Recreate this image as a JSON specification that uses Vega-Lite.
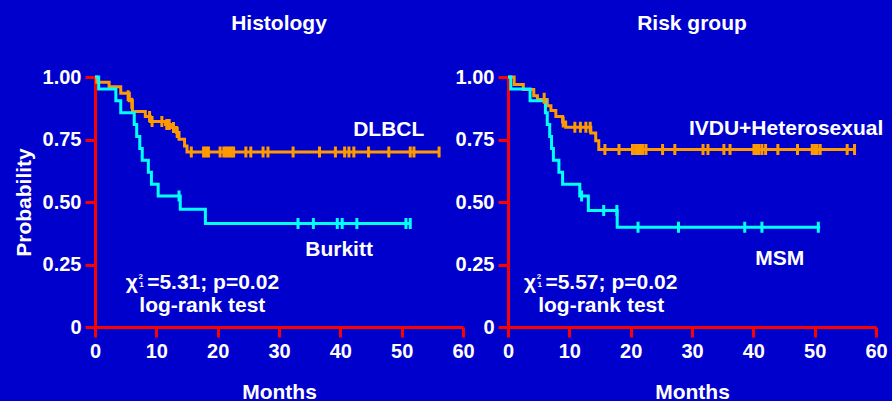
{
  "$schema": "https://vega.github.io/schema/vega-lite/v6.json",
  "background": "#0000CC",
  "padding": {"left": 13, "top": 13, "right": 20, "bottom": 20},
  "spacing": 45,
  "bounds": "flush",
  "config": {
    "view": {"stroke": null},
    "font": "Liberation Sans",
    "axis": {
      "grid": false,
      "labelFlush": false,
      "labelOverlap": false,
      "domainColor": "#FF0000",
      "domainWidth": 3,
      "tickColor": "#FF0000",
      "tickWidth": 3,
      "tickSize": 10,
      "labelColor": "white",
      "labelFont": "Liberation Sans",
      "labelFontWeight": "bold",
      "labelFontSize": 20,
      "labelPadding": 4,
      "titleColor": "white",
      "titleFont": "Liberation Sans",
      "titleFontWeight": "bold",
      "titleFontSize": 21
    },
    "axisX": {"titlePadding": 20},
    "axisY": {"titlePadding": 8},
    "title": {"color": "white", "font": "Liberation Sans", "fontSize": 21, "fontWeight": "bold", "frame": "group", "offset": 33}
  },
  "datasets": {
    "hist_curves": [
      {"group": "DLBCL", "months": 0, "prob": 1.0},
      {"group": "DLBCL", "months": 0.3, "prob": 0.979},
      {"group": "DLBCL", "months": 2.3, "prob": 0.961},
      {"group": "DLBCL", "months": 4.2, "prob": 0.935},
      {"group": "DLBCL", "months": 5.6, "prob": 0.905},
      {"group": "DLBCL", "months": 6.1, "prob": 0.862},
      {"group": "DLBCL", "months": 8.2, "prob": 0.842},
      {"group": "DLBCL", "months": 9.0, "prob": 0.822},
      {"group": "DLBCL", "months": 11.5, "prob": 0.81},
      {"group": "DLBCL", "months": 12.3, "prob": 0.798},
      {"group": "DLBCL", "months": 13.3, "prob": 0.778},
      {"group": "DLBCL", "months": 13.7, "prob": 0.751},
      {"group": "DLBCL", "months": 14.6, "prob": 0.724},
      {"group": "DLBCL", "months": 15.0, "prob": 0.7},
      {"group": "DLBCL", "months": 56.1, "prob": 0.7},
      {"group": "Burkitt", "months": 0, "prob": 1.0},
      {"group": "Burkitt", "months": 0.6, "prob": 0.952},
      {"group": "Burkitt", "months": 3.4, "prob": 0.905},
      {"group": "Burkitt", "months": 4.2, "prob": 0.857},
      {"group": "Burkitt", "months": 6.4, "prob": 0.81},
      {"group": "Burkitt", "months": 6.8, "prob": 0.762},
      {"group": "Burkitt", "months": 7.3, "prob": 0.714},
      {"group": "Burkitt", "months": 7.7, "prob": 0.667},
      {"group": "Burkitt", "months": 8.7, "prob": 0.619},
      {"group": "Burkitt", "months": 9.2, "prob": 0.571},
      {"group": "Burkitt", "months": 10.3, "prob": 0.524},
      {"group": "Burkitt", "months": 13.9, "prob": 0.471},
      {"group": "Burkitt", "months": 18.0, "prob": 0.414},
      {"group": "Burkitt", "months": 51.4, "prob": 0.414}
    ],
    "hist_cens": [
      {"group": "DLBCL", "months": 5.4, "prob": 0.925},
      {"group": "DLBCL", "months": 6.0, "prob": 0.895},
      {"group": "DLBCL", "months": 8.9, "prob": 0.842},
      {"group": "DLBCL", "months": 9.3, "prob": 0.822},
      {"group": "DLBCL", "months": 10.9, "prob": 0.822},
      {"group": "DLBCL", "months": 11.7, "prob": 0.81},
      {"group": "DLBCL", "months": 12.1, "prob": 0.81},
      {"group": "DLBCL", "months": 12.8, "prob": 0.798},
      {"group": "DLBCL", "months": 13.4, "prob": 0.778},
      {"group": "DLBCL", "months": 15.7, "prob": 0.7},
      {"group": "DLBCL", "months": 17.7, "prob": 0.7},
      {"group": "DLBCL", "months": 18.1, "prob": 0.7},
      {"group": "DLBCL", "months": 18.5, "prob": 0.7},
      {"group": "DLBCL", "months": 20.4, "prob": 0.7},
      {"group": "DLBCL", "months": 21.0, "prob": 0.7},
      {"group": "DLBCL", "months": 21.4, "prob": 0.7},
      {"group": "DLBCL", "months": 21.8, "prob": 0.7},
      {"group": "DLBCL", "months": 22.2, "prob": 0.7},
      {"group": "DLBCL", "months": 22.6, "prob": 0.7},
      {"group": "DLBCL", "months": 24.6, "prob": 0.7},
      {"group": "DLBCL", "months": 25.4, "prob": 0.7},
      {"group": "DLBCL", "months": 27.4, "prob": 0.7},
      {"group": "DLBCL", "months": 28.2, "prob": 0.7},
      {"group": "DLBCL", "months": 32.3, "prob": 0.7},
      {"group": "DLBCL", "months": 36.6, "prob": 0.7},
      {"group": "DLBCL", "months": 39.2, "prob": 0.7},
      {"group": "DLBCL", "months": 40.7, "prob": 0.7},
      {"group": "DLBCL", "months": 41.4, "prob": 0.7},
      {"group": "DLBCL", "months": 42.2, "prob": 0.7},
      {"group": "DLBCL", "months": 44.6, "prob": 0.7},
      {"group": "DLBCL", "months": 47.9, "prob": 0.7},
      {"group": "DLBCL", "months": 51.4, "prob": 0.7},
      {"group": "DLBCL", "months": 52.0, "prob": 0.7},
      {"group": "DLBCL", "months": 56.1, "prob": 0.7},
      {"group": "Burkitt", "months": 13.7, "prob": 0.524},
      {"group": "Burkitt", "months": 33.1, "prob": 0.414},
      {"group": "Burkitt", "months": 35.6, "prob": 0.414},
      {"group": "Burkitt", "months": 39.5, "prob": 0.414},
      {"group": "Burkitt", "months": 40.3, "prob": 0.414},
      {"group": "Burkitt", "months": 42.7, "prob": 0.414},
      {"group": "Burkitt", "months": 50.7, "prob": 0.414},
      {"group": "Burkitt", "months": 51.4, "prob": 0.414}
    ],
    "risk_curves": [
      {"group": "IVDU+Heterosexual", "months": 0, "prob": 1.0},
      {"group": "IVDU+Heterosexual", "months": 1.0, "prob": 0.97},
      {"group": "IVDU+Heterosexual", "months": 2.5, "prob": 0.95},
      {"group": "IVDU+Heterosexual", "months": 4.2, "prob": 0.925},
      {"group": "IVDU+Heterosexual", "months": 4.8, "prob": 0.91},
      {"group": "IVDU+Heterosexual", "months": 6.4, "prob": 0.885},
      {"group": "IVDU+Heterosexual", "months": 7.0, "prob": 0.866},
      {"group": "IVDU+Heterosexual", "months": 7.8, "prob": 0.842},
      {"group": "IVDU+Heterosexual", "months": 8.9, "prob": 0.82},
      {"group": "IVDU+Heterosexual", "months": 9.4, "prob": 0.799},
      {"group": "IVDU+Heterosexual", "months": 13.5, "prob": 0.776},
      {"group": "IVDU+Heterosexual", "months": 14.3, "prob": 0.745},
      {"group": "IVDU+Heterosexual", "months": 14.8, "prob": 0.71},
      {"group": "IVDU+Heterosexual", "months": 56.5, "prob": 0.71},
      {"group": "MSM", "months": 0, "prob": 1.0},
      {"group": "MSM", "months": 0.45, "prob": 0.952},
      {"group": "MSM", "months": 3.6, "prob": 0.905},
      {"group": "MSM", "months": 6.1, "prob": 0.857},
      {"group": "MSM", "months": 6.4, "prob": 0.81},
      {"group": "MSM", "months": 6.8, "prob": 0.762},
      {"group": "MSM", "months": 7.1, "prob": 0.714},
      {"group": "MSM", "months": 7.4, "prob": 0.667},
      {"group": "MSM", "months": 8.3, "prob": 0.619},
      {"group": "MSM", "months": 8.9, "prob": 0.571},
      {"group": "MSM", "months": 11.7, "prob": 0.524},
      {"group": "MSM", "months": 13.1, "prob": 0.466},
      {"group": "MSM", "months": 17.8, "prob": 0.399},
      {"group": "MSM", "months": 50.9, "prob": 0.399}
    ],
    "risk_cens": [
      {"group": "IVDU+Heterosexual", "months": 5.9, "prob": 0.915},
      {"group": "IVDU+Heterosexual", "months": 9.0, "prob": 0.82},
      {"group": "IVDU+Heterosexual", "months": 10.9, "prob": 0.799},
      {"group": "IVDU+Heterosexual", "months": 11.8, "prob": 0.799},
      {"group": "IVDU+Heterosexual", "months": 12.7, "prob": 0.799},
      {"group": "IVDU+Heterosexual", "months": 13.4, "prob": 0.799},
      {"group": "IVDU+Heterosexual", "months": 15.8, "prob": 0.71},
      {"group": "IVDU+Heterosexual", "months": 18.1, "prob": 0.71},
      {"group": "IVDU+Heterosexual", "months": 20.3, "prob": 0.71},
      {"group": "IVDU+Heterosexual", "months": 20.8, "prob": 0.71},
      {"group": "IVDU+Heterosexual", "months": 21.2, "prob": 0.71},
      {"group": "IVDU+Heterosexual", "months": 21.6, "prob": 0.71},
      {"group": "IVDU+Heterosexual", "months": 22.0, "prob": 0.71},
      {"group": "IVDU+Heterosexual", "months": 22.5, "prob": 0.71},
      {"group": "IVDU+Heterosexual", "months": 25.2, "prob": 0.71},
      {"group": "IVDU+Heterosexual", "months": 27.2, "prob": 0.71},
      {"group": "IVDU+Heterosexual", "months": 31.8, "prob": 0.71},
      {"group": "IVDU+Heterosexual", "months": 32.6, "prob": 0.71},
      {"group": "IVDU+Heterosexual", "months": 35.2, "prob": 0.71},
      {"group": "IVDU+Heterosexual", "months": 36.2, "prob": 0.71},
      {"group": "IVDU+Heterosexual", "months": 40.1, "prob": 0.71},
      {"group": "IVDU+Heterosexual", "months": 40.5, "prob": 0.71},
      {"group": "IVDU+Heterosexual", "months": 40.9, "prob": 0.71},
      {"group": "IVDU+Heterosexual", "months": 41.4, "prob": 0.71},
      {"group": "IVDU+Heterosexual", "months": 42.0, "prob": 0.71},
      {"group": "IVDU+Heterosexual", "months": 44.0, "prob": 0.71},
      {"group": "IVDU+Heterosexual", "months": 47.2, "prob": 0.71},
      {"group": "IVDU+Heterosexual", "months": 49.6, "prob": 0.71},
      {"group": "IVDU+Heterosexual", "months": 50.0, "prob": 0.71},
      {"group": "IVDU+Heterosexual", "months": 50.4, "prob": 0.71},
      {"group": "IVDU+Heterosexual", "months": 50.9, "prob": 0.71},
      {"group": "IVDU+Heterosexual", "months": 55.3, "prob": 0.71},
      {"group": "IVDU+Heterosexual", "months": 56.5, "prob": 0.71},
      {"group": "MSM", "months": 12.0, "prob": 0.524},
      {"group": "MSM", "months": 15.6, "prob": 0.466},
      {"group": "MSM", "months": 17.75, "prob": 0.466},
      {"group": "MSM", "months": 21.2, "prob": 0.399},
      {"group": "MSM", "months": 27.8, "prob": 0.399},
      {"group": "MSM", "months": 38.6, "prob": 0.399},
      {"group": "MSM", "months": 41.4, "prob": 0.399},
      {"group": "MSM", "months": 50.6, "prob": 0.399}
    ],
    "hist_center": [
      {"label": "DLBCL", "months": 47.9, "prob": 0.766},
      {"label": "Burkitt", "months": 39.8, "prob": 0.285},
      {"label": "log-rank test", "months": 17.5, "prob": 0.061}
    ],
    "hist_left": [
      {"label": "χ", "months": 5.0, "prob": 0.152},
      {"label": "=5.31; p=0.02", "months": 8.5, "prob": 0.152}
    ],
    "hist_small": [
      {"label": "2", "months": 7.1, "prob": 0.191},
      {"label": "1", "months": 7.2, "prob": 0.161}
    ],
    "risk_center": [
      {"label": "MSM", "months": 44.3, "prob": 0.25},
      {"label": "log-rank test", "months": 15.2, "prob": 0.061}
    ],
    "risk_left": [
      {"label": "IVDU+Heterosexual", "months": 29.5, "prob": 0.769},
      {"label": "χ", "months": 2.6, "prob": 0.152},
      {"label": "=5.57; p=0.02", "months": 6.1, "prob": 0.152}
    ],
    "risk_small": [
      {"label": "2", "months": 4.7, "prob": 0.191},
      {"label": "1", "months": 4.8, "prob": 0.161}
    ]
  },
  "hconcat": [
    {
      "width": 368,
      "height": 250,
      "title": {"text": "Histology"},
      "layer": [
        {
          "data": {"name": "hist_curves"},
          "mark": {"type": "line", "interpolate": "step-after", "strokeWidth": 3},
          "encoding": {
            "x": {"field": "months", "type": "quantitative", "scale": {"domain": [0, 60], "nice": false}, "axis": {"values": [0, 10, 20, 30, 40, 50, 60], "title": "Months"}},
            "y": {"field": "prob", "type": "quantitative", "scale": {"domain": [0, 1], "nice": false}, "axis": {"values": [0, 0.25, 0.5, 0.75, 1], "labelExpr": "datum.value == 0 ? '0' : format(datum.value, '.2f')", "title": "Probability"}},
            "color": {"field": "group", "type": "nominal", "scale": {"domain": ["DLBCL", "Burkitt", "IVDU+Heterosexual", "MSM"], "range": ["#FF9900", "#00FFFF", "#FF9900", "#00FFFF"]}, "legend": null}
          }
        },
        {
          "data": {"name": "hist_cens"},
          "mark": {"type": "tick", "orient": "vertical", "size": 11, "thickness": 3, "opacity": 1},
          "encoding": {
            "x": {"field": "months", "type": "quantitative"},
            "y": {"field": "prob", "type": "quantitative"},
            "color": {"field": "group", "type": "nominal", "legend": null}
          }
        },
        {
          "data": {"name": "hist_center"},
          "mark": {"type": "text", "align": "center", "baseline": "alphabetic", "fontSize": 21, "fontWeight": "bold", "color": "white"},
          "encoding": {
            "x": {"field": "months", "type": "quantitative"},
            "y": {"field": "prob", "type": "quantitative"},
            "text": {"field": "label"}
          }
        },
        {
          "data": {"name": "hist_left"},
          "mark": {"type": "text", "align": "left", "baseline": "alphabetic", "fontSize": 21, "fontWeight": "bold", "color": "white"},
          "encoding": {
            "x": {"field": "months", "type": "quantitative"},
            "y": {"field": "prob", "type": "quantitative"},
            "text": {"field": "label"}
          }
        },
        {
          "data": {"name": "hist_small"},
          "mark": {"type": "text", "align": "left", "baseline": "alphabetic", "fontSize": 8, "fontWeight": "bold", "color": "white"},
          "encoding": {
            "x": {"field": "months", "type": "quantitative"},
            "y": {"field": "prob", "type": "quantitative"},
            "text": {"field": "label"}
          }
        }
      ]
    },
    {
      "width": 368,
      "height": 250,
      "title": {"text": "Risk group"},
      "layer": [
        {
          "data": {"name": "risk_curves"},
          "mark": {"type": "line", "interpolate": "step-after", "strokeWidth": 3},
          "encoding": {
            "x": {"field": "months", "type": "quantitative", "scale": {"domain": [0, 60], "nice": false}, "axis": {"values": [0, 10, 20, 30, 40, 50, 60], "title": "Months"}},
            "y": {"field": "prob", "type": "quantitative", "scale": {"domain": [0, 1], "nice": false}, "axis": {"values": [0, 0.25, 0.5, 0.75, 1], "labelExpr": "datum.value == 0 ? '0' : format(datum.value, '.2f')", "title": null}},
            "color": {"field": "group", "type": "nominal", "scale": {"domain": ["DLBCL", "Burkitt", "IVDU+Heterosexual", "MSM"], "range": ["#FF9900", "#00FFFF", "#FF9900", "#00FFFF"]}, "legend": null}
          }
        },
        {
          "data": {"name": "risk_cens"},
          "mark": {"type": "tick", "orient": "vertical", "size": 11, "thickness": 3, "opacity": 1},
          "encoding": {
            "x": {"field": "months", "type": "quantitative"},
            "y": {"field": "prob", "type": "quantitative"},
            "color": {"field": "group", "type": "nominal", "legend": null}
          }
        },
        {
          "data": {"name": "risk_center"},
          "mark": {"type": "text", "align": "center", "baseline": "alphabetic", "fontSize": 21, "fontWeight": "bold", "color": "white"},
          "encoding": {
            "x": {"field": "months", "type": "quantitative"},
            "y": {"field": "prob", "type": "quantitative"},
            "text": {"field": "label"}
          }
        },
        {
          "data": {"name": "risk_left"},
          "mark": {"type": "text", "align": "left", "baseline": "alphabetic", "fontSize": 21, "fontWeight": "bold", "color": "white"},
          "encoding": {
            "x": {"field": "months", "type": "quantitative"},
            "y": {"field": "prob", "type": "quantitative"},
            "text": {"field": "label"}
          }
        },
        {
          "data": {"name": "risk_small"},
          "mark": {"type": "text", "align": "left", "baseline": "alphabetic", "fontSize": 8, "fontWeight": "bold", "color": "white"},
          "encoding": {
            "x": {"field": "months", "type": "quantitative"},
            "y": {"field": "prob", "type": "quantitative"},
            "text": {"field": "label"}
          }
        }
      ]
    }
  ]
}
